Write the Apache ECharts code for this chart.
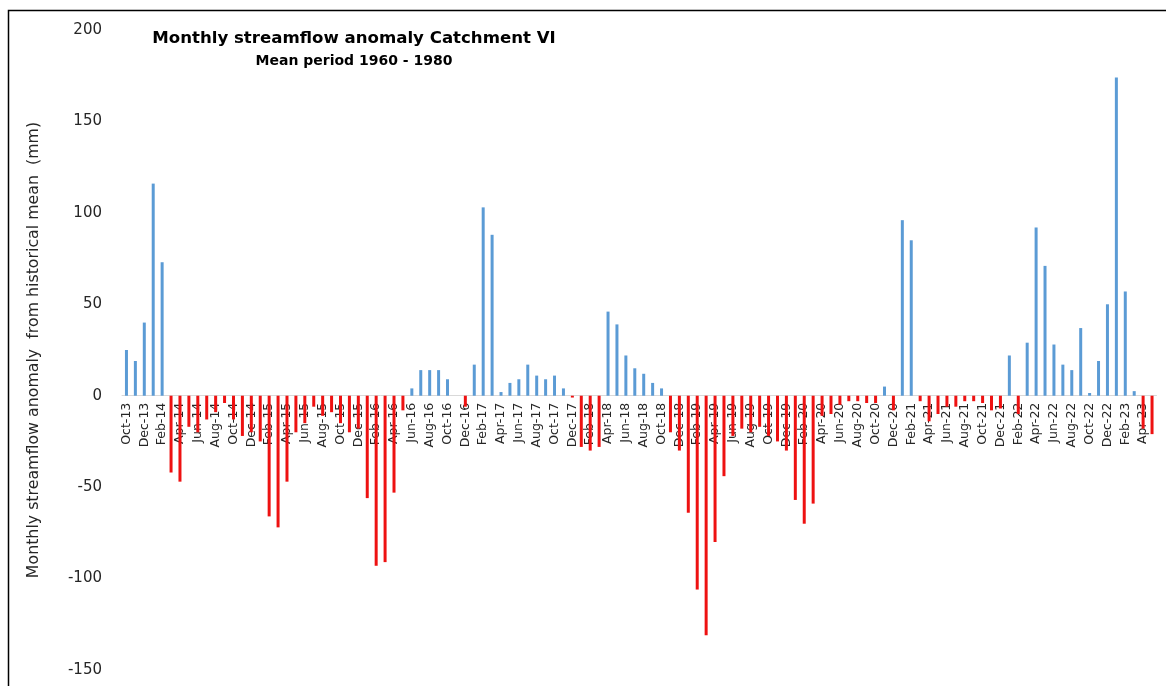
<!DOCTYPE html>
<html>
<head>
<meta charset="utf-8">
<script src="https://cdn.jsdelivr.net/npm/echarts@6/dist/echarts.min.js"></script>
<style>
html,body{margin:0;padding:0;background:#fff;}
#chart{width:1166px;height:686px;}
</style>
</head>
<body>
<div id="chart"></div>
<script>
const titleText = "Monthly streamflow anomaly Catchment VI";
const subtitleText = "Mean period 1960 - 1980";
const yAxisName = "Monthly streamflow anomaly  from historical mean  (mm)";

const categories = [
  "Oct-13","Nov-13","Dec-13",
  "Jan-14","Feb-14","Mar-14","Apr-14","May-14","Jun-14","Jul-14","Aug-14","Sep-14","Oct-14","Nov-14","Dec-14",
  "Jan-15","Feb-15","Mar-15","Apr-15","May-15","Jun-15","Jul-15","Aug-15","Sep-15","Oct-15","Nov-15","Dec-15",
  "Jan-16","Feb-16","Mar-16","Apr-16","May-16","Jun-16","Jul-16","Aug-16","Sep-16","Oct-16","Nov-16","Dec-16",
  "Jan-17","Feb-17","Mar-17","Apr-17","May-17","Jun-17","Jul-17","Aug-17","Sep-17","Oct-17","Nov-17","Dec-17",
  "Jan-18","Feb-18","Mar-18","Apr-18","May-18","Jun-18","Jul-18","Aug-18","Sep-18","Oct-18","Nov-18","Dec-18",
  "Jan-19","Feb-19","Mar-19","Apr-19","May-19","Jun-19","Jul-19","Aug-19","Sep-19","Oct-19","Nov-19","Dec-19",
  "Jan-20","Feb-20","Mar-20","Apr-20","May-20","Jun-20","Jul-20","Aug-20","Sep-20","Oct-20","Nov-20","Dec-20",
  "Jan-21","Feb-21","Mar-21","Apr-21","May-21","Jun-21","Jul-21","Aug-21","Sep-21","Oct-21","Nov-21","Dec-21",
  "Jan-22","Feb-22","Mar-22","Apr-22","May-22","Jun-22","Jul-22","Aug-22","Sep-22","Oct-22","Nov-22","Dec-22",
  "Jan-23","Feb-23","Mar-23","Apr-23","May-23"
];

const anomaly = [
  25, 19, 40,
  116, 73, -42, -47, -17, -20, -13, -9, -4, -13, -22, -20,
  -25, -66, -72, -47, -20, -15, -6, -11, -9, -15, -20, -18,
  -56, -93, -91, -53, -8, 4, 14, 14, 14, 9, 0, -6,
  17, 103, 88, 2, 7, 9, 17, 11, 9, 11, 4, -1,
  -28, -30, -28, 46, 39, 22, 15, 12, 7, 4, -20, -30,
  -64, -106, -131, -80, -44, -22, -18, -20, -17, -22, -25, -30,
  -57, -70, -59, -11, -10, -5, -3, -3, -4, -4, 5, -8,
  96, 85, -3, -14, -10, -6, -6, -3, -3, -4, -8, -7,
  22, -10, 29, 92, 71, 28, 17, 14, 37, 1.5, 19, 50,
  174, 57, 2.5, -18, -21
];

const yTicks = { min: -150, max: 200, interval: 50 };
const positiveColor = "#5b9bd5";
const negativeColor = "#ee1111";

const gridTop = 30, gridBottom = 16, chartH = 686;
const plotH = chartH - gridTop - gridBottom;
const zeroShift = plotH * (0 - yTicks.min) / (yTicks.max - yTicks.min);

const chart = echarts.init(document.getElementById('chart'), null, {renderer: 'canvas'});
chart.setOption({
  backgroundColor: '#ffffff',
  animation: false,
  graphic: [{
    type: 'rect',
    shape: {x: 8.5, y: 10.5, width: 1200, height: 700},
    style: {fill: 'none', stroke: '#000', lineWidth: 1.5},
    silent: true
  }],
  title: [{
    text: titleText,
    left: 349, top: 25, textAlign: 'center',
    textStyle: {fontFamily: 'DejaVu Sans', fontWeight: 'bold', fontSize: 16.6, color: '#000'}
  }, {
    text: subtitleText,
    left: 349, top: 49, textAlign: 'center',
    textStyle: {fontFamily: 'DejaVu Sans', fontWeight: 'bold', fontSize: 14, color: '#000'}
  }],
  grid: {left: 122, right: 9.5, top: gridTop, bottom: gridBottom, containLabel: false, outerBoundsMode: 'none'},
  xAxis: {
    type: 'category',
    data: categories,
    boundaryGap: true,
    offset: -zeroShift,
    axisLine: {show: true, onZero: false, lineStyle: {color: '#d9d9d9', width: 1}},
    axisTick: {show: false},
    axisLabel: {
      interval: 1, rotate: 90, margin: 7,
      fontFamily: 'DejaVu Sans', fontSize: 12.5, color: '#262626'
    },
    splitLine: {show: false}
  },
  yAxis: {
    type: 'value',
    min: yTicks.min, max: yTicks.max, interval: yTicks.interval,
    name: yAxisName,
    nameLocation: 'middle',
    nameGap: 80,
    nameTextStyle: {fontFamily: 'DejaVu Sans', fontSize: 15.8, color: '#262626'},
    axisLine: {show: false},
    axisTick: {show: false},
    splitLine: {show: false},
    axisLabel: {margin: 20, fontFamily: 'DejaVu Sans', fontSize: 15, color: '#262626'}
  },
  series: [{
    type: 'bar',
    data: anomaly,
    barWidth: 3,
    z: 3,
    itemStyle: {
      color: function (p) { return p.value >= 0 ? positiveColor : negativeColor; }
    }
  }]
});
</script>
</body>
</html>
